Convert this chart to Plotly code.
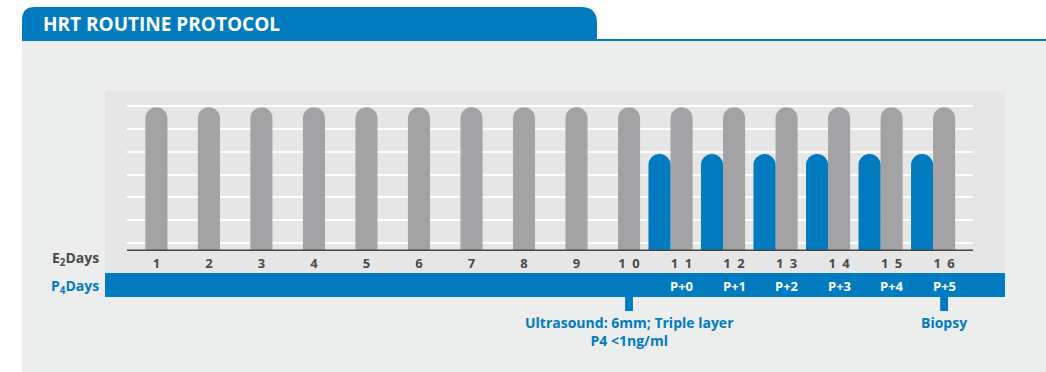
import plotly.graph_objects as go

# ---- data ----
days = list(range(1, 17))
e2_levels = [6.3] * 16                      # oestradiol, every day of the cycle
p4_days = [11, 12, 13, 14, 15, 16]          # progesterone added from day 11
p4_levels = [4.25] * 6
p4_labels = ["P+0", "P+1", "P+2", "P+3", "P+4", "P+5"]
event_days = [10, 16]
event_labels = ["Ultrasound: 6mm; Triple layer<br>P4 <1ng/ml", "Biopsy"]
day_labels = ["\u2002".join(str(d)) for d in days]

W, H = 1046, 372
BLUE = "#007BC0"
GREY_BAR = "#A3A3A5"
DARK = "#4A4A4A"
FONT = "Open Sans"


def px(x):
    return x / W


def py(y):
    return 1 - y / H


fig = go.Figure()

fig.add_trace(go.Bar(
    x=days, y=e2_levels, width=0.42, offset=-0.21,
    marker=dict(color=GREY_BAR, line=dict(width=0), cornerradius=11),
    hoverinfo="skip", showlegend=False,
))
fig.add_trace(go.Bar(
    x=p4_days, y=p4_levels, width=0.42, offset=-0.63,
    marker=dict(color=BLUE, line=dict(width=0), cornerradius=11),
    hoverinfo="skip", showlegend=False,
))

shapes = []
# page panel, tab and rule under the title
shapes.append(dict(type="rect", xref="paper", yref="paper",
                   x0=px(22), x1=px(W), y0=py(H), y1=py(41),
                   fillcolor="#ECEDED", line=dict(width=0), layer="below"))
tab = (f"M {px(22)},{py(41)} L {px(22)},{py(20)} "
       f"Q {px(22)},{py(7)} {px(35)},{py(7)} L {px(581)},{py(7)} "
       f"Q {px(597)},{py(7)} {px(597)},{py(23)} L {px(597)},{py(41)} Z")
shapes.append(dict(type="path", xref="paper", yref="paper", path=tab,
                   fillcolor=BLUE, line=dict(width=0), layer="below"))
shapes.append(dict(type="rect", xref="paper", yref="paper",
                   x0=px(597), x1=px(W), y0=py(41), y1=py(39),
                   fillcolor=BLUE, line=dict(width=0), layer="below"))
# inner chart panel
shapes.append(dict(type="rect", xref="paper", yref="paper",
                   x0=px(105), x1=px(1005), y0=py(273), y1=py(91),
                   fillcolor="#E6E6E6", line=dict(width=0), layer="below"))
# P4 days band
shapes.append(dict(type="rect", xref="paper", yref="paper",
                   x0=px(105), x1=px(1005), y0=py(297), y1=py(273),
                   fillcolor=BLUE, line=dict(width=0), layer="below"))
# baseline
shapes.append(dict(type="line", xref="x domain", yref="y",
                   x0=0, x1=1, y0=0, y1=0,
                   line=dict(color="#474747", width=3), layer="above"))
# event markers below the band
for d in event_days:
    shapes.append(dict(type="rect", xref="x", yref="paper",
                       x0=d - 0.075, x1=d + 0.075, y0=py(311), y1=py(296),
                       fillcolor=BLUE, line=dict(width=0), layer="below"))

annotations = []
annotations.append(dict(text="HRT ROUTINE PROTOCOL", xref="paper", yref="paper",
                        x=px(41), y=py(24), xanchor="left", yanchor="middle",
                        showarrow=False,
                        font=dict(family=FONT, size=19, color="white", weight=700)))
annotations.append(dict(text="E<sub>2</sub>Days", xref="paper", yref="paper",
                        x=px(101), y=py(258), xanchor="right", yanchor="middle",
                        showarrow=False,
                        font=dict(family=FONT, size=14, color=DARK, weight=700)))
annotations.append(dict(text="P<sub>4</sub>Days", xref="paper", yref="paper",
                        x=px(101), y=py(286), xanchor="right", yanchor="middle",
                        showarrow=False,
                        font=dict(family=FONT, size=14, color=BLUE, weight=700)))
for d, lab in zip(p4_days, p4_labels):
    annotations.append(dict(text=lab, xref="x", yref="paper",
                            x=d, y=py(286), xanchor="center", yanchor="middle",
                            showarrow=False,
                            font=dict(family=FONT, size=13, color="white", weight=700)))
for d, lab in zip(event_days, event_labels):
    annotations.append(dict(text=lab, xref="x", yref="paper",
                            x=d, y=py(311), xanchor="center", yanchor="top",
                            showarrow=False,
                            font=dict(family=FONT, size=14, color=BLUE, weight=700)))

fig.update_layout(
    width=W, height=H,
    margin=dict(l=0, r=0, t=0, b=0),
    paper_bgcolor="white",
    plot_bgcolor="rgba(0,0,0,0)",
    barmode="overlay",
    shapes=shapes,
    annotations=annotations,
    xaxis=dict(
        domain=[px(127), px(973)],
        range=[0.44, 16.55],
        tickmode="array", tickvals=days, ticktext=day_labels,
        ticks="", showgrid=False, zeroline=False, showline=False,
        ticklabelstandoff=3,
        tickfont=dict(family=FONT, size=13, color=DARK, weight=700),
        fixedrange=True,
    ),
    yaxis=dict(
        domain=[py(251), py(100)],
        range=[0, 6.62],
        tickmode="array", tickvals=[0.35 + k for k in range(7)],
        showticklabels=False, ticks="",
        showgrid=True, gridcolor="white", gridwidth=2,
        zeroline=False, showline=False, fixedrange=True,
    ),
)

fig.write_html("out.html")
